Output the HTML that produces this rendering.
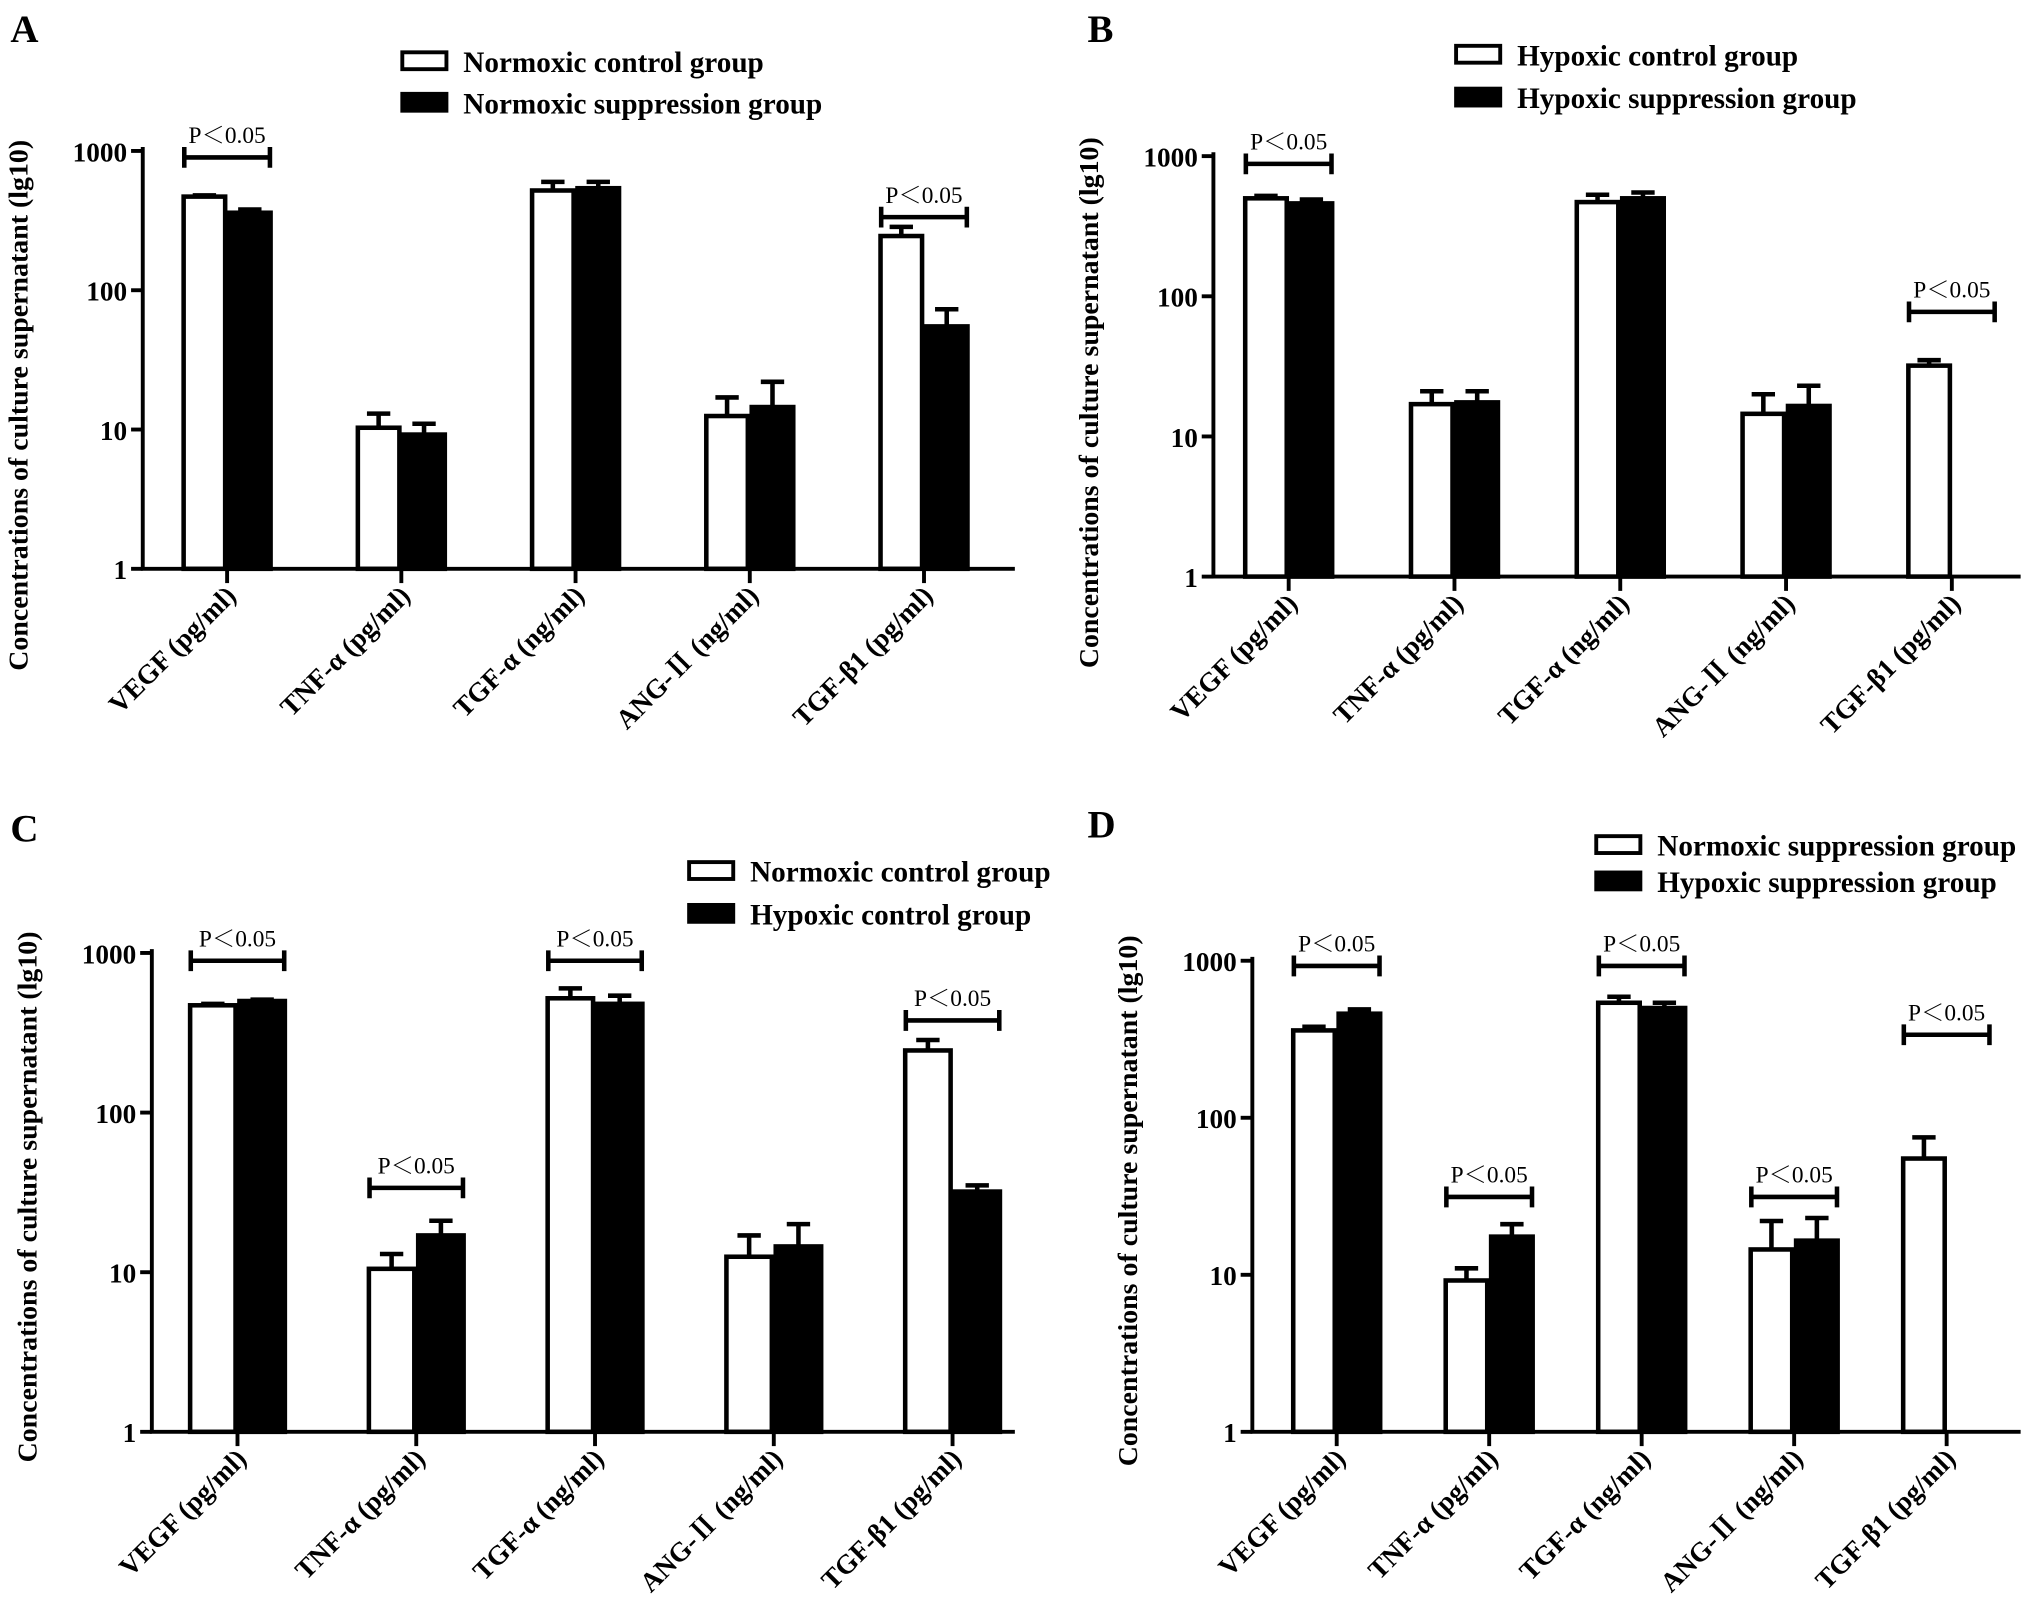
<!DOCTYPE html>
<html><head><meta charset="utf-8"><style>
html,body{margin:0;padding:0;background:#fff}
svg{display:block}
text{font-family:"Liberation Serif","Noto Serif CJK SC",serif;font-weight:bold;fill:#000}
.p{font-weight:normal}
</style></head><body>
<svg id="fig" width="2031" height="1623" viewBox="0 0 1565 1250" xmlns="http://www.w3.org/2000/svg"></svg>
<script>
const categories = ["VEGF (pg/ml)","TNF-α (pg/ml)","TGF-α (ng/ml)","ANG-Ⅱ (ng/ml)","TGF-β1 (pg/ml)"];
const yTickLabels = ["1","10","100","1000"];
// Panel A
const aWhite = [470,10.3,520,12.5,245];
const aWhiteErr = [480,13,600,17,285];
const aBlack = [360,9.2,540,14.5,55];
const aBlackErr = [380,11,600,22,73];
const aSig = [0,4];
// Panel B
const bWhite = [500,17,470,14.5,32];
const bWhiteErr = [520,21,530,20,35];
const bBlack = [460,17.5,500,16.5,null];
const bBlackErr = [490,21,550,23,null];
const bSig = [0,4];
// Panel C
const cWhite = [470,10.5,520,12.5,245];
const cWhiteErr = [480,13,600,17,285];
const cBlack = [500,17,480,14.5,32];
const cBlackErr = [510,21,540,20,35];
const cSig = [0,1,2,4];
// Panel D
const dWhite = [360,9.2,540,14.5,55];
const dWhiteErr = [380,11,590,22,75];
const dBlack = [460,17.5,500,16.5,null];
const dBlackErr = [490,21,540,23,null];
const dSig = [0,1,2,3,4];

const NS="http://www.w3.org/2000/svg";
const svg=document.getElementById('fig');
function el(tag,attrs,parent){const e=document.createElementNS(NS,tag);for(const k in attrs)e.setAttribute(k,attrs[k]);(parent||svg).appendChild(e);return e;}

const panels=[
 {id:'a',letter:'A',lx:8,ly:32,ax:110,axEnd:782,y1000:116,y1:438,c0:175,c4:712,bw:35,
  leg:["Normoxic control group","Normoxic suppression group"],legX:308,legY:[47,79],
  white:aWhite,whiteErr:aWhiteErr,black:aBlack,blackErr:aBlackErr,sig:aSig,sigY:[121,null,null,null,167],titleY:312},
 {id:'b',letter:'B',lx:838,ly:32,ax:935,axEnd:1557,y1000:120,y1:444,c0:993,c4:1504,bw:35,
  leg:["Hypoxic control group","Hypoxic suppression group"],legX:1120,legY:[42,75],
  white:bWhite,whiteErr:bWhiteErr,black:bBlack,blackErr:bBlackErr,sig:bSig,sigY:[126,null,null,null,240],titleY:310},
 {id:'c',letter:'C',lx:8,ly:648,ax:117,axEnd:782,y1000:734,y1:1103,c0:183,c4:734,bw:38,
  leg:["Normoxic control group","Hypoxic control group"],legX:529,legY:[671,704],
  white:cWhite,whiteErr:cWhiteErr,black:cBlack,blackErr:cBlackErr,sig:cSig,sigY:[740,915,740,null,786],titleY:922},
 {id:'d',letter:'D',lx:838,ly:645,ax:965,axEnd:1557,y1000:740,y1:1103,c0:1030,c4:1500,bw:35,
  leg:["Normoxic suppression group","Hypoxic suppression group"],legX:1228,legY:[651,679],
  white:dWhite,whiteErr:dWhiteErr,black:dBlack,blackErr:dBlackErr,sig:dSig,sigY:[744,922,744,922,797],titleY:925}
];

panels.forEach(p=>{
  const g=el('g',{});
  
  
  const y=v=>p.y1-(Math.log10(v))*(p.y1-p.y1000)/3;
  const x=i=>p.c0+i*(p.c4-p.c0)/4;
  const L=el('text',{x:p.lx,y:p.ly,'font-size':30},g);L.textContent=p.letter;
  
  
  p.leg.forEach((t,k)=>{
    const r=el('rect',{x:p.legX+2,y:p.legY[k]-7,width:34,height:13,fill:k?'#000':'#fff',stroke:'#000','stroke-width':3},g);
    
    
    const tx=el('text',{x:p.legX+49,y:p.legY[k]+8,'font-size':22.5},g);tx.textContent=t;
    
    
  });
  const yt=el('text',{x:0,y:0,'font-size':21.5,'text-anchor':'middle',transform:`translate(${p.ax-89},${p.titleY}) rotate(-90)`},g);
  yt.textContent="Concentrations of culture supernatant (lg10)";
  
  
  const bw=p.bw;
  [[p.white,p.whiteErr,'#fff',-1],[p.black,p.blackErr,'#000',0]].forEach(([vals,errs,fill,off])=>{
    vals.forEach((v,i)=>{
      if(v==null)return;
      const bx=x(i)+off*bw, top=y(v);
      const ey=y(errs[i]);
      const e=el('path',{d:`M${bx+bw/2},${top} V${ey} M${bx+bw/2-9},${ey} H${bx+bw/2+9}`,stroke:'#000','stroke-width':3.5,fill:'none'},g);
      
      
      const r=el('rect',{x:bx+1.5,y:top,width:bw-3,height:p.y1-top,fill:fill,stroke:'#000','stroke-width':3.5},g);
      
      
    });
  });
  const ax=el('path',{d:`M${p.ax},${p.y1000-3} V${p.y1} H${p.axEnd}`,stroke:'#000','stroke-width':3,fill:'none'},g);
  
  
  yTickLabels.forEach((t,k)=>{
    const ty=y(Math.pow(10,k));
    el('line',{x1:p.ax-9,x2:p.ax,y1:ty,y2:ty,stroke:'#000','stroke-width':3},g);
    const tl=el('text',{x:p.ax-12,y:ty+8,'font-size':21,'text-anchor':'end'},g);tl.textContent=t;
    
    
  });
  categories.forEach((c,i)=>{
    el('line',{x1:x(i),x2:x(i),y1:p.y1,y2:p.y1+11,stroke:'#000','stroke-width':3},g);
    const tl=el('text',{x:0,y:0,'font-size':21,'text-anchor':'end',transform:`translate(${x(i)+8},${p.y1+22}) rotate(-45)`},g);
    tl.textContent=c;
    
    
  });
  p.sig.forEach(i=>{
    const sy=p.sigY[i];
    const x0=x(i)-bw+2, x1=x(i)+bw-2;
    const b=el('path',{d:`M${x0},${sy-8} V${sy+8} M${x0},${sy} H${x1} M${x1},${sy-8} V${sy+8}`,stroke:'#000','stroke-width':3.5,fill:'none'},g);
    
    
    const t=el('text',{x:x(i),y:sy-11,'font-size':18,'text-anchor':'middle',class:'p'},g);
    t.textContent="P＜0.05";
    
    
  });
});
</script>
</body></html>
